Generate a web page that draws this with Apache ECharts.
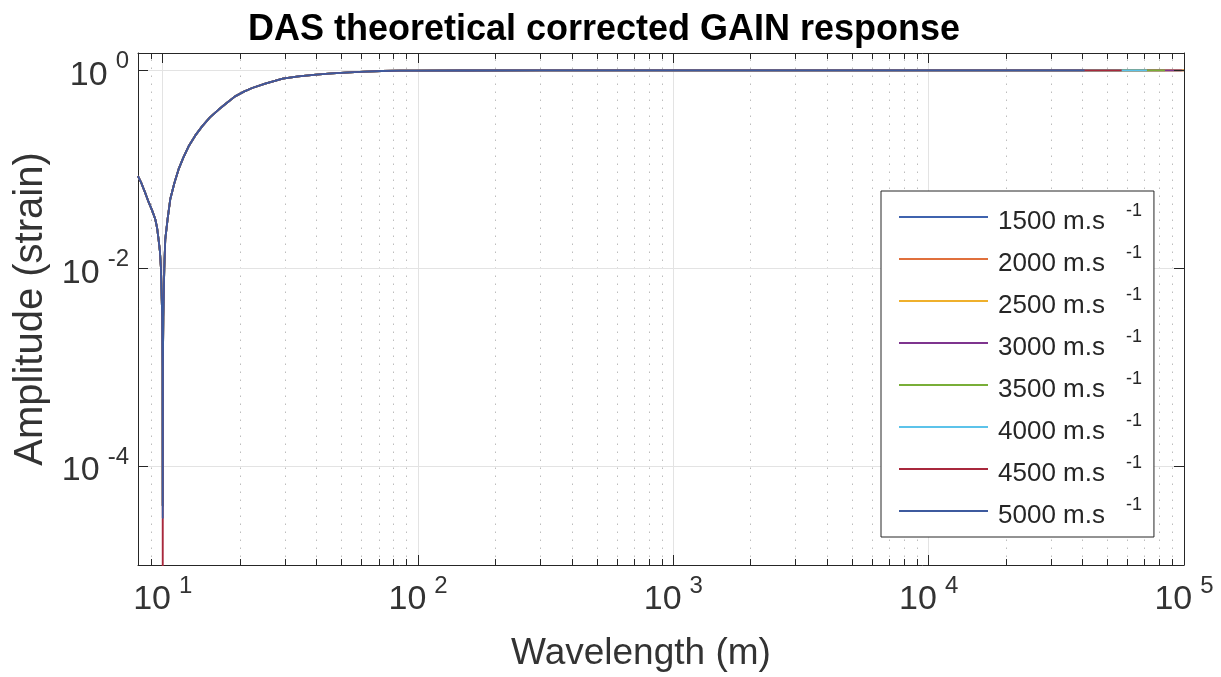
<!DOCTYPE html>
<html><head><meta charset="utf-8">
<script src="https://cdn.jsdelivr.net/npm/echarts@6/dist/echarts.min.js"></script>
<style>html,body{margin:0;padding:0;background:#fff}#c{width:1221px;height:677px}</style>
</head><body><div id="c"></div>
<script>
// ---------------- data ----------------
const velocities = [1500, 2000, 2500, 3000, 3500, 4000, 4500, 5000];
const seriesColors = ['#3f63ae', '#e0703c', '#efb02c', '#7e348e', '#79ae38', '#5cc3ea', '#a8283c', '#3d5a9e'];
const wavelength = [8.0, 8.25, 8.53, 8.8, 9.1, 9.35, 9.5, 9.63, 9.75, 9.84, 9.95, 9.984, 10.0, 10.016, 10.05, 10.14, 10.23, 10.45, 10.7, 11.1, 11.53, 12.05, 12.63, 13.4, 14.26, 15.3, 16.56, 17.8, 19.2, 20.8, 22.4, 25.2, 29.5, 34, 39.9, 46, 53.9, 62, 72, 85, 98, 150, 300, 1000, 10000];
const amplitude = [0.0853, 0.0724, 0.0581, 0.0468, 0.0380, 0.0313, 0.0257, 0.0196, 0.0148, 0.0100, 0.0032, 0.0010, null, 0.0010, 0.0032, 0.0100, 0.0196, 0.0316, 0.0498, 0.0724, 0.0998, 0.132, 0.171, 0.219, 0.272, 0.335, 0.402, 0.468, 0.547, 0.610, 0.664, 0.735, 0.824, 0.871, 0.906, 0.933, 0.955, 0.973, 0.986, 0.993, 0.995, 0.998, 0.9995, 1.0, 1.0];
const dipMinimum = [4e-5, 4e-5, 4e-5, 4e-5, 4e-5, 4e-5, 3e-6, 3e-5];
const lastWavelength = [100000, 100000, 100000, 98000, 84200, 71600, 57000, 40800];
const xTickExponents = [1, 2, 3, 4, 5];
const yTickExponents = [-4, -2, 0];
const xMinorTicks = [9,
  20, 30, 40, 50, 60, 70, 80, 90,
  200, 300, 400, 500, 600, 700, 800, 900,
  2000, 3000, 4000, 5000, 6000, 7000, 8000, 9000,
  20000, 30000, 40000, 50000, 60000, 70000, 80000, 90000];
const X_MIN = 8, X_MAX = 100000, Y_MIN = 1e-5, Y_MAX = 1.5;
const seriesNames = velocities.map(v => v + ' m.s');

// ---------------- chart ----------------
const FONT = "'Liberation Sans', Arial, Helvetica, sans-serif";
const chart = echarts.init(document.getElementById('c'));

function expOf(v) {
  const l = Math.log10(v);
  const e = Math.round(l);
  return Math.abs(l - e) < 1e-6 ? e : null;
}
const tickRich = {
  b: { fontSize: 34, lineHeight: 44, verticalAlign: 'bottom', color: '#333', fontFamily: FONT },
  s: { fontSize: 24, lineHeight: 24, verticalAlign: 'top', padding: [1, 0, 0, 8], color: '#333', fontFamily: FONT }
};

const series = velocities.map((v, i) => {
  const data = [];
  wavelength.forEach((w, j) => {
    if (w < lastWavelength[i]) data.push([w, amplitude[j] === null ? dipMinimum[i] : amplitude[j]]);
  });
  data.push([lastWavelength[i], 1.0]);
  return {
    name: seriesNames[i], type: 'line', data, symbol: 'none', showSymbol: false,
    lineStyle: { width: 1.8, color: seriesColors[i], join: 'round' }, itemStyle: { color: seriesColors[i] },
    clip: true, animation: false, z: 2
  };
});

const option = {
  animation: false,
  backgroundColor: '#fff',
  title: {
    text: 'DAS theoretical corrected GAIN response', left: 599, top: 7, textAlign: 'center',
    textStyle: { fontSize: 36, fontWeight: 'bold', color: '#000', fontFamily: FONT }
  },
  grid: { left: 138, top: 53, right: 37, bottom: 111, show: false },
  legend: {
    orient: 'vertical', left: 881, top: 191, padding: [8, 12, 8, 18],
    itemWidth: 89, itemHeight: 2, itemGap: 6, icon: 'rect',
    backgroundColor: '#fff', borderColor: '#262626', borderWidth: 1, borderRadius: 0,
    data: seriesNames,
    formatter: n => '{a|' + n + '}{s|-1}',
    textStyle: {
      rich: {
        a: { fontSize: 26, lineHeight: 36, verticalAlign: 'bottom', color: '#262626', padding: [0, 0, 0, 5], fontFamily: FONT },
        s: { fontSize: 18, lineHeight: 18, verticalAlign: 'top', padding: [3, 0, 0, 21], color: '#262626', fontFamily: FONT }
      }
    },
    z: 4
  },
  xAxis: [
    {
      type: 'log', logBase: 10, min: X_MIN, max: X_MAX, position: 'bottom',
      axisLine: { show: true, onZero: false, lineStyle: { color: '#262626', width: 1 } },
      axisTick: { show: true, inside: true, length: 10, lineStyle: { color: '#262626' } },
      axisLabel: {
        margin: 8, showMinLabel: true, showMaxLabel: true, hideOverlap: false,
        formatter: v => { const e = expOf(v); return (e !== null && xTickExponents.includes(e)) ? '{b|10}{s|' + e + '}' : ''; },
        rich: tickRich
      },
      splitLine: { show: true, lineStyle: { color: '#e3e3e3', width: 1 } },
      name: 'Wavelength (m)', nameLocation: 'middle', nameGap: 70,
      nameTextStyle: { fontSize: 37, color: '#333', fontFamily: FONT, padding: [0, 40, 0, 0] }
    },
    {
      type: 'log', logBase: 10, min: X_MIN, max: X_MAX, position: 'top',
      axisLine: { show: true, onZero: false, lineStyle: { color: '#262626', width: 1 } },
      axisTick: { show: true, inside: true, length: 10, lineStyle: { color: '#262626' } },
      axisLabel: { show: false }, splitLine: { show: false }
    }
  ],
  yAxis: [
    {
      type: 'log', logBase: 10, min: Y_MIN, max: Y_MAX, position: 'left',
      axisLine: { show: true, onZero: false, lineStyle: { color: '#262626', width: 1 } },
      axisTick: { show: false },
      axisLabel: {
        margin: 9, showMinLabel: true, showMaxLabel: true, hideOverlap: false,
        formatter: v => { const e = expOf(v); return (e !== null && yTickExponents.includes(e)) ? '{b|10}{s|' + e + '}' : ''; },
        rich: tickRich
      },
      splitLine: { show: false },
      name: 'Amplitude (strain)', nameLocation: 'middle', nameGap: 84,
      nameTextStyle: { fontSize: 40, color: '#333', fontFamily: FONT }
    },
    {
      type: 'log', logBase: 10, min: Y_MIN, max: Y_MAX, position: 'right',
      axisLine: { show: true, onZero: false, lineStyle: { color: '#262626', width: 1 } },
      axisTick: { show: false }, axisLabel: { show: false }, splitLine: { show: false }
    }
  ],
  series
};
chart.setOption(option);

// minor grid / ticks and y major grid / ticks placed through the chart's own scales
const pt = (x, y) => chart.convertToPixel({ xAxisIndex: 0, yAxisIndex: 0 }, [x, y]);
const g = [];
xMinorTicks.forEach(v => {
  const b = pt(v, Y_MIN), t = pt(v, Y_MAX);
  const x = Math.round(b[0]) + 0.5;
  g.push({ type: 'line', silent: true, z: 1, shape: { x1: x, y1: b[1], x2: x, y2: t[1] },
    style: { stroke: '#bdbdbd', lineWidth: 1, lineDash: [1.5, 6.5] } });
  g.push({ type: 'line', silent: true, z: 5, shape: { x1: x, y1: b[1], x2: x, y2: b[1] - 6 },
    style: { stroke: '#262626', lineWidth: 1 } });
  g.push({ type: 'line', silent: true, z: 5, shape: { x1: x, y1: t[1], x2: x, y2: t[1] + 6 },
    style: { stroke: '#262626', lineWidth: 1 } });
});
yTickExponents.forEach(e => {
  const l = pt(X_MIN, Math.pow(10, e)), r = pt(X_MAX, Math.pow(10, e));
  const y = Math.round(l[1]) + 0.5;
  g.push({ type: 'line', silent: true, z: 1, shape: { x1: l[0], y1: y, x2: r[0], y2: y },
    style: { stroke: '#e3e3e3', lineWidth: 1 } });
  g.push({ type: 'line', silent: true, z: 5, shape: { x1: l[0], y1: y, x2: l[0] + 10, y2: y },
    style: { stroke: '#262626', lineWidth: 1 } });
  g.push({ type: 'line', silent: true, z: 5, shape: { x1: r[0], y1: y, x2: r[0] - 10, y2: y },
    style: { stroke: '#262626', lineWidth: 1 } });
});
chart.setOption({ graphic: g });
</script>
</body></html>
